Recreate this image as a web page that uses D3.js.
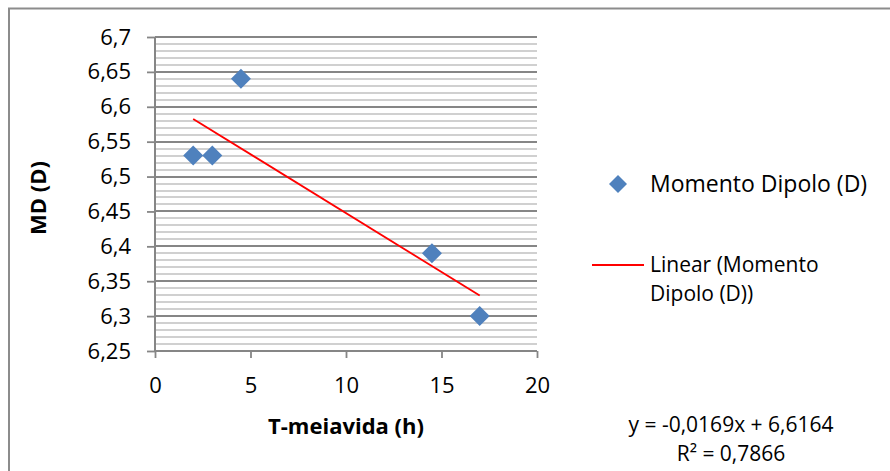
<!DOCTYPE html>
<html><head><meta charset="utf-8">
<script src="https://cdn.jsdelivr.net/npm/d3@7"></script>
<style>body{margin:0;background:#fff}svg{display:block}text{font-family:"Open Sans","Noto Sans",sans-serif;fill:#000}</style>
</head><body>
<svg id="c" width="890" height="471"></svg>
<script>
const xValues = [2, 3, 4.5, 14.5, 17];
const yValues = [6.53, 6.53, 6.64, 6.39, 6.30];
const xTicks = [0, 5, 10, 15, 20];
const yTicks = [6.25, 6.3, 6.35, 6.4, 6.45, 6.5, 6.55, 6.6, 6.65, 6.7];
const seriesName = "Momento Dipolo (D)";
const trendName = ["Linear (Momento", "Dipolo (D))"];
const xTitle = "T-meiavida (h)";
const yTitle = "MD (D)";
const eqText = ["y = -0,0169x + 6,6164", "R² = 0,7866"];

const svg = d3.select("#c");
const W = 890, H = 471;
svg.append("rect").attr("x",0).attr("y",0).attr("width",W).attr("height",H).attr("fill","#fff");
// outer border
svg.append("path").attr("d","M9,471V8.5H890").attr("fill","none").attr("stroke","#8c8c8c").attr("stroke-width",2);

const L=155, R=537, T=37, B=351;
const x = d3.scaleLinear().domain([0,20]).range([L,R]);
const y = d3.scaleLinear().domain([6.25,6.7]).range([B,T]);
const fmt = d => String(+d.toFixed(2)).replace(".", ",");

// minor gridlines
const minor = d3.range(0,46).map(i => 6.25 + i*0.01).filter((v,i)=> i%5!==0);
svg.append("g").selectAll("line").data(minor).join("line")
  .attr("x1",L).attr("x2",R).attr("y1",d=>Math.round(y(d))).attr("y2",d=>Math.round(y(d)))
  .attr("stroke","#c0c0c0").attr("stroke-width",1.6);
// major gridlines
svg.append("g").selectAll("line").data(yTicks.slice(1)).join("line")
  .attr("x1",L).attr("x2",R).attr("y1",d=>Math.round(y(d))).attr("y2",d=>Math.round(y(d)))
  .attr("stroke","#868686").attr("stroke-width",1.8);

// axes
const yAxis = d3.axisLeft(y).tickValues(yTicks).tickSize(8).tickPadding(16).tickFormat(fmt);
const gy = svg.append("g").attr("transform",`translate(${L},0)`).call(yAxis);
const xAxis = d3.axisBottom(x).tickValues(xTicks).tickSize(7).tickPadding(19).tickFormat(d=>d);
const gx = svg.append("g").attr("transform",`translate(0,${B})`).call(xAxis);
[gx,gy].forEach(g=>{
  g.select(".domain").attr("stroke","#868686").attr("stroke-width",2);
  g.selectAll(".tick line").attr("stroke","#868686").attr("stroke-width",1.8);
  g.selectAll(".tick text").attr("font-size",22).attr("font-family","'Open Sans',sans-serif").attr("fill","#000");
});
gx.select(".domain").attr("d",`M${L},0H${R}`);
gy.select(".domain").attr("d",`M0,${B}V${T}`);

// regression
const n = xValues.length;
const mx = d3.mean(xValues), my = d3.mean(yValues);
let sxy=0, sxx=0;
for(let i=0;i<n;i++){ sxy+=(xValues[i]-mx)*(yValues[i]-my); sxx+=(xValues[i]-mx)**2; }
const slope = sxy/sxx, icpt = my - slope*mx;
const x0 = d3.min(xValues), x1 = d3.max(xValues);
svg.append("line").attr("x1",x(x0)).attr("y1",y(slope*x0+icpt)).attr("x2",x(x1)).attr("y2",y(slope*x1+icpt))
  .attr("stroke","#ff0000").attr("stroke-width",1.8);

// points
const sym = d3.symbol().type(d3.symbolSquare).size(200);
svg.append("g").selectAll("path").data(xValues.map((v,i)=>[v,yValues[i]])).join("path")
  .attr("d",sym).attr("transform",d=>`translate(${x(d[0])},${y(d[1])}) rotate(45)`)
  .attr("fill","#4f81bd");

// axis titles
svg.append("text").attr("x",346).attr("y",434).attr("text-anchor","middle")
  .attr("font-size",22).attr("font-weight","bold").text(xTitle);
svg.append("text").attr("transform",`translate(46,198) rotate(-90)`).attr("text-anchor","middle")
  .attr("font-size",22).attr("font-weight","bold").text(yTitle);

// legend
svg.append("path").attr("d",d3.symbol().type(d3.symbolSquare).size(162)).attr("transform","translate(618,184) rotate(45)").attr("fill","#4f81bd");
svg.append("text").attr("x",650).attr("y",192).attr("font-size",23).text(seriesName);
svg.append("line").attr("x1",592).attr("x2",644).attr("y1",265).attr("y2",265).attr("stroke","#ff0000").attr("stroke-width",1.8);
svg.append("text").attr("x",650).attr("y",272).attr("font-size",21).text(trendName[0]);
svg.append("text").attr("x",650).attr("y",301).attr("font-size",21).text(trendName[1]);

// equation
svg.append("text").attr("x",731).attr("y",432).attr("text-anchor","middle").attr("font-size",21).text(eqText[0]);
svg.append("text").attr("x",731).attr("y",461).attr("text-anchor","middle").attr("font-size",21).text(eqText[1]);
</script>
</body></html>
